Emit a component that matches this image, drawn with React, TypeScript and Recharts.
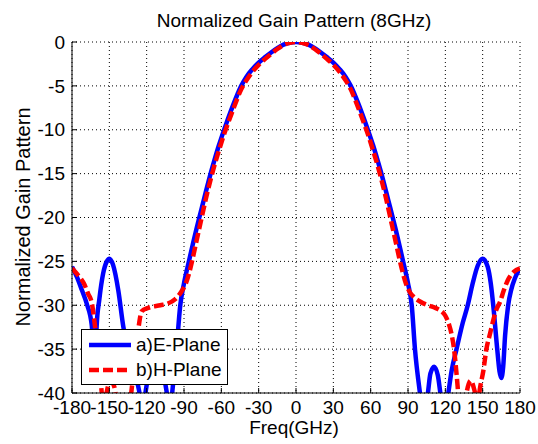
import { CartesianGrid, Legend, Line, LineChart, XAxis, YAxis } from "recharts";

const FONT = "'Liberation Sans', Arial, Helvetica, sans-serif";

const xTicks = [-180, -150, -120, -90, -60, -30, 0, 30, 60, 90, 120, 150, 180];
const yTicks = [0, -5, -10, -15, -20, -25, -30, -35, -40];

// E-plane (blue), angle in degrees / normalized gain in dB
const eAngles = [
  -180, -176, -172, -168.2, -164.2, -162.8, -161.8, -160.9, -160.2, -158, -155, -152, -150,
  -147, -142.8, -138.8, -134, -130, -126, -123.5, -121, -118, -113, -108, -104, -101.5, -99.5,
  -96, -93, -90, -86.4, -83, -80, -77.7, -75, -72.3, -69, -66, -62, -58, -55, -50, -44, -40,
  -35, -30, -25, -20, -15, -10, -5, 0, 5, 10, 15, 20, 25, 30, 35, 40, 44, 50, 55, 58, 62, 66,
  69, 72.3, 75, 77.7, 80, 83, 86.4, 90, 93, 95.6, 99.6, 102.5, 106, 108, 111, 114, 116, 119,
  122.4, 125, 129, 134, 138, 142, 146, 150, 154, 156.5, 158.5, 161.7, 163.5, 165, 166.5, 168,
  170.5, 173, 176, 180,
];
const eGain = [
  -25.6, -26.8, -28.3, -29.8, -32.2, -35, -37, -35, -32.4, -29.3, -26.4, -25, -24.7,
  -25.4, -28.3, -32.4, -35.5, -37.8, -39.8, -42.5, -40, -37.6, -36.3, -37.3, -39.8, -42.5, -40,
  -35, -30, -27.5, -25.2, -23.1, -21.3, -20, -18.5, -17, -15.2, -13.7, -11.8, -10.1, -8.9, -7, -5, -4,
  -3.1, -2.35, -1.75, -1.2, -0.7, -0.3, -0.08, 0, -0.08, -0.3, -0.7, -1.2, -1.75, -2.35, -3.1, -4, -5, -7, -8.9, -10.1, -11.8, -13.7,
  -15.2, -17, -18.5, -20, -21.3, -23.1, -25.2, -27.5, -30, -35, -40, -43, -40, -37.8, -37, -38, -40, -43,
  -40, -37.5, -35, -32, -30, -27.5, -25.5, -24.7, -25.6, -27.5, -30, -35, -37.5, -38.3, -37, -33.5,
  -30, -28.2, -26.9, -25.8,
];

// H-plane (red dashed)
const hAngles = [
  -180, -175, -170.5, -167, -164, -161.5, -159, -157, -155.5, -153.5, -151, -148.5, -146, -144,
  -140, -135, -132, -129.5, -126.6, -124, -118.7, -109, -103, -97, -91.9, -88.5, -86, -83.4, -80,
  -75.3, -72, -69, -66, -62, -58, -55, -50, -44, -40, -35, -30, -25, -20, -15, -10, -5, 0, 5, 10,
  15, 20, 25, 30, 35, 40, 44, 50, 55, 58, 62, 66, 69, 72, 75.3, 80, 83.4, 86, 88.5, 91, 95, 100,
  106, 112, 116, 120, 123, 125, 127, 129, 131, 134, 137, 140.5, 144, 146, 148, 150.5, 153, 156,
  158, 161, 164, 167, 170, 175, 180,
];
const hGain = [
  -25.8, -26.6, -27.5, -28.7, -29.8, -32.4, -35.5, -38.5, -40.5, -40.6, -39.2, -38.7, -39.3, -41,
  -43, -42.5, -39.5, -36, -32.6, -30.7, -30.3, -30, -29.8, -29.3, -28.4, -27.5, -26.4, -24.9, -22.7,
  -19.7, -17.6, -15.9, -14.3, -12.4, -10.6, -9.4, -7.5, -5.4, -4.4, -3.4, -2.6, -1.95, -1.35, -0.8, -0.35, -0.1, 0, -0.1, -0.35,
  -0.8, -1.35, -1.95, -2.6, -3.4, -4.4, -5.4, -7.5, -9.4, -10.6, -12.4, -14.3, -15.9, -17.6, -19.7, -22.7, -24.9, -26.4, -27.6, -28.4, -29.1, -29.6,
  -30, -30.3, -30.6, -31.2, -32.2, -33.3, -35, -37.8, -41, -43, -40, -38.6, -40, -41, -39.3, -37.5, -35, -33.2,
  -32, -30.5, -29.6, -28.3, -27.2, -26.2, -25.8,
];

const eData = eAngles.map((angle, i) => ({ angle, gain: eGain[i] }));
const hData = hAngles.map((angle, i) => ({ angle, gain: hGain[i] }));

const dashFor: Record<string, string | undefined> = {
  "a)E-Plane": undefined,
  "b)H-Plane": "10 4",
};

const PlaneLegend = (props: any) => {
  const items = props.payload || [];
  return (
    <div
      style={{
        width: 145,
        height: 54,
        border: "1px solid #000",
        background: "#fff",
        fontFamily: FONT,
        fontSize: 19,
        color: "#000",
        position: "relative",
      }}
    >
      {items.map((item: any, i: number) => (
        <div
          key={item.value}
          style={{
            position: "absolute",
            left: 6,
            top: 3 + i * 25,
            height: 24,
            display: "flex",
            alignItems: "center",
            whiteSpace: "nowrap",
          }}
        >
          <svg width={44} height={10}>
            <line
              x1={1}
              y1={5}
              x2={43}
              y2={5}
              stroke={item.color}
              strokeWidth={4.5}
              strokeDasharray={dashFor[item.value]}
            />
          </svg>
          <span style={{ marginLeft: 4 }}>{item.value}</span>
        </div>
      ))}
    </div>
  );
};

const tickStyle = { fill: "#000", fontSize: 19, fontFamily: FONT };

export default function App() {
  return (
    <div style={{ position: "absolute", left: 0, top: 0, width: 538, height: 444, background: "#fff" }}>
      <LineChart width={538} height={444} margin={{ top: 42, right: 18, bottom: 0, left: 0 }}>
        <CartesianGrid stroke="#000" strokeDasharray="1 3" />
        <XAxis
          dataKey="angle"
          type="number"
          domain={[-180, 180]}
          ticks={xTicks}
          interval={0}
          allowDataOverflow
          height={51}
          stroke="#000"
          tickSize={-5}
          tickMargin={13}
          tick={tickStyle}
        />
        <XAxis
          xAxisId="top"
          orientation="top"
          dataKey="angle"
          type="number"
          domain={[-180, 180]}
          ticks={xTicks}
          interval={0}
          allowDataOverflow
          height={0}
          stroke="#000"
          tickSize={-5}
          tick={false}
        />
        <YAxis
          type="number"
          domain={[-40, 0]}
          ticks={yTicks}
          interval={0}
          allowDataOverflow
          width={72}
          stroke="#000"
          tickSize={-5}
          tickMargin={12}
          tick={tickStyle}
        />
        <YAxis
          yAxisId="right"
          orientation="right"
          type="number"
          domain={[-40, 0]}
          ticks={yTicks}
          interval={0}
          allowDataOverflow
          width={0}
          stroke="#000"
          tickSize={-5}
          tick={false}
        />
        <Legend
          layout="vertical"
          align="center"
          verticalAlign="middle"
          wrapperStyle={{ left: 81, top: 329, width: 147, height: 56 }}
          content={PlaneLegend}
        />
        <Line
          data={eData}
          dataKey="gain"
          name="a)E-Plane"
          type="monotone"
          stroke="#0000ff"
          strokeWidth={4.5}
          dot={false}
          isAnimationActive={false}
        />
        <Line
          data={hData}
          dataKey="gain"
          name="b)H-Plane"
          type="monotone"
          stroke="#ff0000"
          strokeWidth={4.5}
          strokeDasharray="10 4"
          dot={false}
          isAnimationActive={false}
        />
        <text x={294} y={27} textAnchor="middle" fontSize={19} fontFamily={FONT} fill="#000">
          Normalized Gain Pattern (8GHz)
        </text>
        <text x={294} y={434} textAnchor="middle" fontSize={19} fontFamily={FONT} fill="#000">
          Freq(GHz)
        </text>
        <text
          x={30}
          y={217}
          transform="rotate(-90, 30, 217)"
          textAnchor="middle"
          fontSize={20}
          fontFamily={FONT}
          fill="#000"
        >
          Normalized Gain Pattern
        </text>
      </LineChart>
    </div>
  );
}
